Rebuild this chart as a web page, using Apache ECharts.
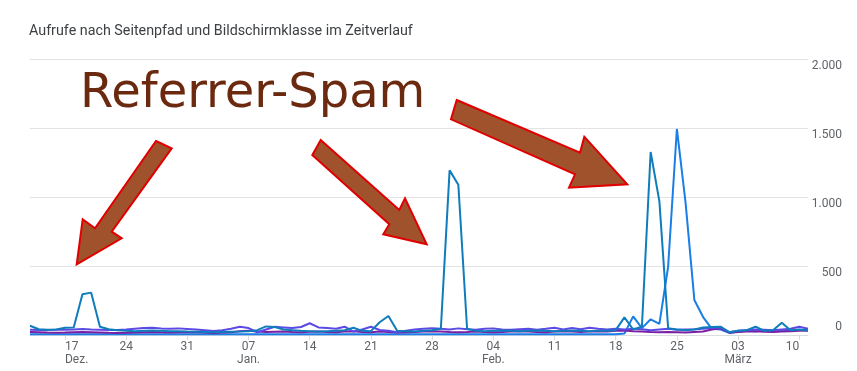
<!DOCTYPE html>
<html>
<head>
<meta charset="utf-8">
<script src="https://cdn.jsdelivr.net/npm/echarts@6/dist/echarts.min.js"></script>
<style>
html,body{margin:0;padding:0;background:#fff;}
#chart{width:857px;height:371px;}
</style>
</head>
<body>
<div id="chart"></div>
<script>
// ---- Data ----
const chartTitle = 'Aufrufe nach Seitenpfad und Bildschirmklasse im Zeitverlauf';
const annotationText = 'Referrer-Spam';
// Daily categories: 13 Dec 2023 .. 11 Mar 2024 (90 days)
const startYear = 2023, startMonth = 11, startDay = 13, dayCount = 90;
const categories = [];
for (let i = 0; i < dayCount; i++) {
  const d = new Date(Date.UTC(startYear, startMonth, startDay + i));
  categories.push(d.toISOString().slice(0, 10));
}
const monthLabels = ['Jan.','Feb.','März','Apr.','Mai','Juni','Juli','Aug.','Sept.','Okt.','Nov.','Dez.'];
const yTicks = [0, 500, 1000, 1500, 2000];

const seriesTeal = [
  67,42,38,40,52,54,295,307,60,42,
  35,30,28,30,32,30,28,27,25,24,
  22,20,22,24,25,28,35,62,58,40,
  35,30,28,26,28,30,35,53,30,28,
  92,138,30,28,26,30,35,45,1193,1089,
  45,30,28,30,32,30,28,30,32,30,
  28,30,32,30,28,30,30,35,128,40,
  60,1326,968,49,40,35,40,55,58,60,
  20,30,35,60,30,35,89,35,40,35
];
const seriesBlue = [
  6,5,5,6,5,5,6,5,5,6,
  5,5,6,5,5,6,5,5,6,5,
  5,6,5,5,6,5,5,6,5,5,
  6,5,5,6,5,5,6,5,5,6,
  5,5,6,5,5,6,5,5,6,5,
  5,6,5,5,6,5,5,6,5,5,
  6,5,5,6,5,5,6,5,10,135,
  50,114,80,496,1493,956,254,130,45,40,
  15,25,30,28,32,30,35,30,38,30
];
const seriesViolet = [
  38,36,37,38,38,40,44,40,38,36,
  37,40,45,50,53,48,46,48,44,40,
  35,29,35,45,60,50,20,40,60,55,
  50,58,85,55,50,45,60,25,40,60,
  36,30,20,30,40,45,49,45,40,48,
  42,38,45,48,40,38,42,45,38,45,
  53,40,50,42,53,45,40,45,40,45,
  42,35,40,45,38,40,42,45,50,55,
  20,30,35,40,38,35,40,45,60,45
];
const seriesPurple = [
  22,20,18,17,18,20,22,20,18,16,
  15,16,18,20,22,20,19,20,22,20,
  18,15,18,20,28,30,25,22,24,26,
  22,20,24,26,22,20,25,28,22,20,
  25,22,18,20,22,25,28,26,22,20,
  22,25,22,20,22,25,28,25,22,20,
  25,28,25,22,26,28,25,30,32,28,
  25,22,20,22,20,18,22,26,40,49,
  17,22,25,28,24,22,26,28,30,32
];

// ---- Helpers ----
function dateOf(s){ const p = s.split('-').map(Number); return new Date(Date.UTC(p[0], p[1]-1, p[2])); }
const tickIdx = categories.map((c,i)=>dateOf(c).getUTCDay()===0 ? i : -1).filter(i=>i>=0);
const firstTick = tickIdx[0], lastTick = tickIdx[tickIdx.length-1];
const FONT = 'Roboto';
const mctx = document.createElement('canvas').getContext('2d');
mctx.font = '12px ' + FONT;
function tw(t){ return Math.round(mctx.measureText(t).width * 10) / 10; }
function fmtNum(v){ return String(v).replace(/\B(?=(\d{3})+(?!\d))/g, '.'); }

const rich = {};
function xLabel(value, index) {
  const d = dateOf(value);
  const day = String(d.getUTCDate()).padStart(2,'0');
  const showMonth = (index === firstTick) || d.getUTCDate() <= 7;
  const mon = monthLabels[d.getUTCMonth()];
  if (index === firstTick) {
    rich.fa = {padding:[0,0,0,tw(day)]};
    rich.fb = {padding:[0,0,0,tw(mon)]};
    return '{fa|' + day + '}' + (showMonth ? '\n{fb|' + mon + '}' : '');
  }
  if (index === lastTick) {
    rich.la = {padding:[0,tw(day),0,0]};
    rich.lb = {padding:[0,tw(mon),0,0]};
    return '{la|' + day + '}' + (showMonth ? '\n{lb|' + mon + '}' : '');
  }
  return showMonth ? day + '\n' + mon : day;
}
categories.forEach((c,i)=>{ if (tickIdx.indexOf(i)>=0) xLabel(c,i); });

const chart = echarts.init(document.getElementById('chart'), null, {renderer:'canvas'});
const lineSeries = (name, data, color, z) => ({
  name, type:'line', data, symbol:'none', smooth:false, z,
  lineStyle:{color, width:2}, itemStyle:{color}, animation:false
});

const arrowStyle = {fill:'#a0522d', stroke:'#e00000', lineWidth:2};
const option = {
  animation:false,
  backgroundColor:'#ffffff',
  title:{
    text: chartTitle, left: 24, top: 19,
    textStyle:{fontFamily:FONT, fontSize:14.3, fontWeight:'normal', color:'#3c4043'}
  },
  grid:{left:30, right:49, top:59, bottom:36, containLabel:false},
  xAxis:{
    type:'category', data:categories, boundaryGap:false,
    axisLine:{show:true, lineStyle:{color:'#dadce0', width:1}},
    axisTick:{show:true, length:5, interval:(i)=>tickIdx.indexOf(i)>=0, lineStyle:{color:'#dadce0'}},
    axisLabel:{
      interval:(i)=>tickIdx.indexOf(i)>=0,
      formatter:xLabel, rich:rich,
      fontFamily:FONT, fontSize:12, color:'#5f6368', lineHeight:13, margin:5
    },
    splitLine:{show:false}
  },
  yAxis:[{
    type:'value', position:'right', min:yTicks[0], max:yTicks[yTicks.length-1], interval:yTicks[1]-yTicks[0],
    axisLine:{show:false}, axisTick:{show:false},
    splitLine:{show:true, lineStyle:{color:'#e3e3e3', width:1}},
    axisLabel:{
      formatter:(v)=> v===0 ? '' : fmtNum(v),
      fontFamily:FONT, fontSize:12, color:'#5f6368',
      align:'right', verticalAlign:'top', lineHeight:14, margin:34
    }
  },{
    type:'value', position:'right', min:yTicks[0], max:yTicks[yTicks.length-1], interval:yTicks[1]-yTicks[0],
    axisLine:{show:false}, axisTick:{show:false}, splitLine:{show:false},
    axisLabel:{
      formatter:(v)=> v===0 ? '0' : '',
      fontFamily:FONT, fontSize:12, color:'#5f6368',
      align:'right', verticalAlign:'bottom', lineHeight:16, margin:34
    }
  }],
  series:[
    lineSeries('Blau', seriesBlue, '#1a7ee6', 2),
    lineSeries('Lila', seriesPurple, '#7b1fa2', 3),
    lineSeries('Violett', seriesViolet, '#5b4ae6', 4),
    lineSeries('Türkis', seriesTeal, '#0f7dbb', 5)
  ],
  graphic:[
    {type:'text', z:100, x:80, y:95, style:{
      text:annotationText, font:'normal 48px "DejaVu Sans"', fill:'#6b2a0f',
      textAlign:'left', textVerticalAlign:'middle', verticalAlign:'middle'}},
    {type:'polygon', z:100, shape:{points:[[156,141],[171.7,148.3],[111.7,231.7],[121.7,238.3],[76.7,264.3],[82.7,219.3],[95,228.3]]}, style:arrowStyle},
    {type:'polygon', z:100, shape:{points:[[320.7,140],[399.3,210],[405,198.3],[426.7,244.3],[383.3,234.3],[389.3,224.3],[312.3,155]]}, style:arrowStyle},
    {type:'polygon', z:100, shape:{points:[[456.7,100],[580,152.7],[584.3,136.7],[627.3,184.3],[569,187.7],[575,174.3],[451,119.3]]}, style:arrowStyle}
  ]
};
chart.setOption(option);
</script>
</body>
</html>
